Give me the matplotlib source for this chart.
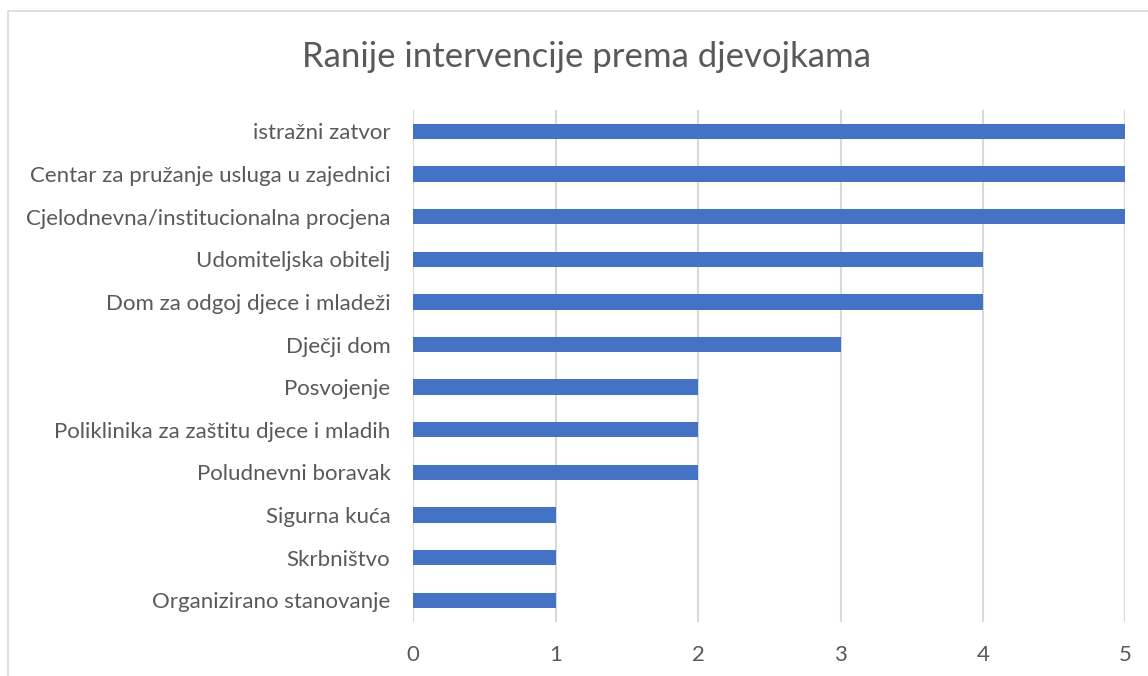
import matplotlib.pyplot as plt
from matplotlib.patches import Rectangle

###############################################################################

plt.rcParams.update({
    "font.family": ["Lato", "DejaVu Sans"],
    "font.size": 16,
})

TEXT = "#595959"
BAR = "#4472C4"
GRID = "#D9D9D9"

###############################################################################

categories = [
    "istražni zatvor",
    "Centar za pružanje usluga u zajednici",
    "Cjelodnevna/institucionalna procjena",
    "Udomiteljska obitelj",
    "Dom za odgoj djece i mladeži",
    "Dječji dom",
    "Posvojenje",
    "Poliklinika za zaštitu djece i mladih",
    "Poludnevni boravak",
    "Sigurna kuća",
    "Skrbništvo",
    "Organizirano stanovanje",
]
values = [5, 5, 5, 4, 4, 3, 2, 2, 2, 1, 1, 1]
x_ticks = [0, 1, 2, 3, 4, 5]
title = "Ranije intervencije prema djevojkama"

###############################################################################

W, H = 1148, 676
fig = plt.figure(figsize=(W/100, H/100), dpi=100)

# chart frame (runs off the right and bottom edges)
fig.patches.append(Rectangle((8/W, -0.1), 1.2, 1 - 11/H + 0.1,
                             transform=fig.transFigure, fill=False,
                             edgecolor=GRID, linewidth=1.2))

left, right, top, bottom = 413.3, 1125.3, 110, 621.7
ax = fig.add_axes([left/W, 1 - bottom/H, (right-left)/W, (bottom-top)/H])

pos = list(range(len(categories)))
ax.barh(pos, values, height=0.36, color=BAR, zorder=3)

ax.set_ylim(len(categories) - 0.5, -0.5)
ax.set_xlim(0, 5)
ax.set_yticks(pos, categories)
ax.set_xticks(x_ticks, [str(t) for t in x_ticks])
ax.grid(axis="x", color=GRID, linewidth=1.5, zorder=0)

for s in ax.spines.values():
    s.set_visible(False)
ax.tick_params(left=False, bottom=False, colors=TEXT, labelsize=16)
ax.tick_params(axis="y", pad=13)
ax.tick_params(axis="x", pad=13)

fig.text(586/W, 1 - 57/H, title, ha="center", va="center",
         fontsize=25, color=TEXT)

fig.savefig("out.png", dpi=100)
